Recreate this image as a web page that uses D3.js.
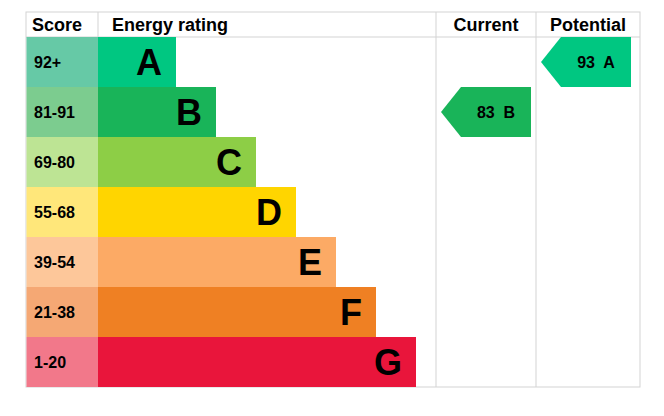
<!DOCTYPE html>
<html><head><meta charset="utf-8">
<script src="https://cdn.jsdelivr.net/npm/d3@7"></script>
<style>body{margin:0;background:#fff}svg{display:block;font-family:Arial,"Liberation Sans",sans-serif}</style>
</head><body><div id="chart"></div>
<script>
const bands = ["A", "B", "C", "D", "E", "F", "G"];
const scoreLabels = ["92+", "81-91", "69-80", "55-68", "39-54", "21-38", "1-20"];
const barColors = ["#00c781", "#19b459", "#8dce46", "#ffd500", "#fcaa65", "#ef8023", "#e9153b"];
const scoreColors = ["#66c9a6", "#7ccc8f", "#bde494", "#ffe77a", "#fdc79a", "#f5a874", "#f2788a"];
const barLength = [1, 2, 3, 4, 5, 6, 7];
const current = { score: 83, band: "B" };
const potential = { score: 93, band: "A" };

const W = 664, H = 416;
const gLeft = 26, gRight = 640, gTop = 12, headH = 25, gBottom = 387;
const xScore = 98, xBarEnd = 436, xCur = 536;

const svg = d3.select("#chart").append("svg").attr("width", W).attr("height", H);

const y = d3.scaleBand().domain(bands).range([gTop + headH, gBottom]);
const xBar = d3.scaleLinear().domain([1, 7]).range([176, 416]);

const grid = "#d3d3d3";
svg.append("rect").attr("x", gLeft).attr("y", gTop).attr("width", gRight - gLeft).attr("height", gBottom - gTop)
  .attr("fill", "none").attr("stroke", grid);
svg.append("line").attr("x1", gLeft).attr("x2", gRight).attr("y1", gTop + headH).attr("y2", gTop + headH).attr("stroke", grid);
[xScore, xBarEnd, xCur].forEach(v => svg.append("line").attr("x1", v).attr("x2", v)
  .attr("y1", gTop).attr("y2", v === xScore ? gTop + headH : gBottom).attr("stroke", grid));

const head = [["Score", gLeft + 6, "start"], ["Energy rating", xScore + 14, "start"],
  ["Current", (xBarEnd + xCur) / 2, "middle"], ["Potential", (xCur + gRight) / 2, "middle"]];
svg.selectAll("text.head").data(head).enter().append("text").attr("class", "head")
  .attr("x", d => d[1]).attr("y", gTop + 19).attr("text-anchor", d => d[2])
  .attr("font-size", 18).attr("font-weight", "bold").text(d => d[0]);

const rows = svg.selectAll("g.row").data(bands).enter().append("g").attr("class", "row");
rows.append("rect").attr("x", gLeft + 0.5).attr("y", d => y(d)).attr("width", xScore - gLeft - 0.5)
  .attr("height", y.bandwidth()).attr("fill", (d, i) => scoreColors[i]);
rows.append("text").attr("x", gLeft + 8).attr("y", d => y(d) + y.bandwidth() / 2 + 6)
  .attr("font-size", 16).attr("font-weight", "bold").text((d, i) => scoreLabels[i]);
rows.append("rect").attr("x", xScore).attr("y", d => y(d)).attr("width", (d, i) => xBar(barLength[i]) - xScore)
  .attr("height", y.bandwidth()).attr("fill", (d, i) => barColors[i]);
rows.append("text").attr("x", (d, i) => xBar(barLength[i]) - 14).attr("y", d => y(d) + y.bandwidth() / 2 + 13)
  .attr("text-anchor", "end").attr("font-size", 36).attr("font-weight", "bold").text(d => d);

function arrow(r, x0, x1) {
  const yt = y(r.band), h = y.bandwidth(), i = bands.indexOf(r.band);
  svg.append("path").attr("fill", barColors[i])
    .attr("d", `M${x0},${yt + h / 2}L${x0 + 20},${yt}H${x1}V${yt + h}H${x0 + 20}Z`);
  svg.append("text").attr("x", (x0 + x1) / 2 + 10).attr("y", yt + h / 2 + 6).attr("text-anchor", "middle")
    .attr("font-size", 16).attr("font-weight", "bold").attr("xml:space", "preserve")
    .text(r.score + "  " + r.band);
}
arrow(current, 441, 531);
arrow(potential, 541, 631);
</script></body></html>
